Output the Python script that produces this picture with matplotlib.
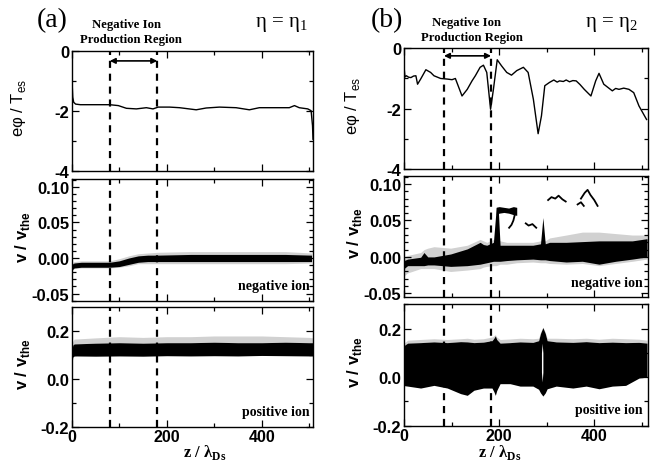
import matplotlib
matplotlib.use('Agg')
import matplotlib.pyplot as plt
from matplotlib.ticker import MultipleLocator

plt.rcParams['axes.unicode_minus'] = False

# ---------------- data ----------------
# electrostatic potential, case (a)
phi_a_z = [0, 1, 2, 4, 8, 18, 80, 98, 115, 136, 157, 171, 182, 206, 227, 262, 283,
           311, 346, 374, 395, 430, 458, 469, 479, 497, 504, 507, 508]
phi_a = [-0.72, -1.2, -1.55, -1.72, -1.78, -1.80, -1.80, -1.83, -1.92, -1.94, -1.90,
         -1.94, -1.88, -1.88, -1.90, -1.97, -1.91, -1.88, -1.90, -1.97, -1.90, -1.90,
         -1.90, -1.83, -1.90, -1.94, -2.0, -2.5, -2.95]

# electrostatic potential, case (b)
phi_b_z = [0, 2, 5, 10, 14.6, 20, 25, 28.5, 35, 46, 56, 63, 77, 91, 101, 108, 122,
           133, 143, 150, 160, 167, 174, 182, 188, 196, 205, 216, 226, 237, 251, 261,
           272, 282, 289, 296, 306, 315, 322, 327, 335, 341, 348, 355, 362, 370, 379,
           393, 403, 410, 420, 438, 445, 452, 462, 473, 483, 494, 510]
phi_b = [-0.6, -0.95, -0.91, -0.96, -0.97, -0.92, -0.91, -1.19, -1.02, -0.71, -0.80,
         -0.91, -1.0, -1.02, -1.04, -1.0, -1.58, -1.36, -1.08, -0.91, -0.63, -0.56,
         -0.80, -2.02, -1.36, -0.38, -0.58, -0.80, -0.89, -0.74, -0.63, -0.80,
         -1.69, -2.83, -2.24, -1.24, -1.13, -1.05, -1.12, -1.08, -1.10, -1.05, -1.11,
         -1.07, -1.08, -1.20, -1.36, -1.58, -1.08, -0.83, -1.19, -1.41, -1.33, -1.36,
         -1.32, -1.36, -1.47, -1.91, -2.36]

# negative-ion phase space, case (a): dense band and sparse halo
neg_a_z = [0, 5, 20, 80, 100, 120, 140, 160, 180, 250, 350, 450, 505]
neg_a_lo = [-0.017, -0.014, -0.013, -0.013, -0.012, -0.009, -0.006, -0.005, -0.005,
            -0.005, -0.005, -0.005, -0.005]
neg_a_hi = [-0.009, -0.007, -0.006, -0.006, -0.004, 0.000, 0.003, 0.004, 0.004,
            0.005, 0.005, 0.005, 0.004]
neg_a_halo_lo = [-0.018, -0.015, -0.014, -0.014, -0.013, -0.011, -0.008, -0.008,
                 -0.008, -0.008, -0.008, -0.008, -0.007]
neg_a_halo_hi = [-0.007, -0.005, -0.004, -0.004, -0.001, 0.003, 0.006, 0.007, 0.008,
                 0.009, 0.009, 0.009, 0.007]

# positive-ion phase space, case (a)
pos_a_z = [0, 2, 5, 50, 100, 150, 200, 250, 300, 350, 400, 450, 500, 508]
pos_a_lo = [0.05, 0.09, 0.095, 0.094, 0.095, 0.094, 0.096, 0.095, 0.096, 0.095,
            0.097, 0.096, 0.095, 0.095]
pos_a_hi = [0.11, 0.14, 0.145, 0.148, 0.15, 0.148, 0.15, 0.15, 0.152, 0.15, 0.15,
            0.152, 0.15, 0.15]
pos_a_halo = [0.12, 0.155, 0.165, 0.17, 0.175, 0.172, 0.175, 0.175, 0.178, 0.178,
              0.178, 0.175, 0.172, 0.17]

# negative-ion phase space, case (b)
neg_b_z = [0, 7.6, 35, 42, 50, 63, 98, 133, 160, 167, 174, 188, 194, 198, 202, 216,
           237, 271, 287, 292, 297, 306, 341, 375, 410, 445, 480, 511]
neg_b_lo = [-0.016, -0.012, -0.012, -0.012, -0.011, -0.011, -0.013, -0.012, -0.010,
            -0.009, -0.008, -0.006, -0.006, -0.006, -0.006, -0.005, -0.004, -0.003,
            -0.004, -0.004, -0.004, -0.005, -0.007, -0.006, -0.010, -0.006, -0.003,
            0.0]
neg_b_hi = [-0.005, -0.003, -0.0005, 0.006, 0.0, 0.0, 0.004, 0.011, 0.020, 0.017,
            0.016, 0.020, 0.068, 0.068, 0.016, 0.016, 0.016, 0.016, 0.018, 0.054,
            0.018, 0.020, 0.020, 0.021, 0.022, 0.022, 0.022, 0.025]
neg_b_halo_lo = [-0.026, -0.022, -0.016, -0.016, -0.016, -0.016, -0.020, -0.018,
                 -0.016, -0.014, -0.013, -0.012, -0.012, -0.011, -0.010, -0.010,
                 -0.008, -0.007, -0.008, -0.008, -0.008, -0.009, -0.010, -0.009,
                 -0.012, -0.009, -0.006, -0.003]
neg_b_halo_hi = [0.0, 0.002, 0.006, 0.010, 0.012, 0.014, 0.012, 0.016, 0.024, 0.022,
                 0.020, 0.024, 0.024, 0.024, 0.022, 0.020, 0.020, 0.020, 0.022,
                 0.024, 0.022, 0.026, 0.030, 0.034, 0.034, 0.032, 0.030, 0.030]
# trapped-ion clump on top of the jump near z = 195
clump_z = [194, 200, 210, 220, 230, 237]
clump_lo = [0.058, 0.060, 0.061, 0.060, 0.058, 0.057]
clump_hi = [0.068, 0.069, 0.068, 0.067, 0.069, 0.068]
# sparse streaks above the band (z, v) polylines
streaks = [
    ([233, 230, 226, 221], [0.058, 0.050, 0.044, 0.040]),
    ([256, 262, 270, 278], [0.046, 0.043, 0.045, 0.040]),
    ([303, 310, 318, 325, 333, 340], [0.078, 0.082, 0.080, 0.084, 0.079, 0.076]),
    ([372, 380, 386, 392, 400, 407], [0.080, 0.088, 0.092, 0.085, 0.078, 0.070]),
    ([365, 372, 378], [0.072, 0.075, 0.070]),
]

# positive-ion phase space, case (b)
pos_b_z = [0, 7.6, 35, 63, 91, 119, 133, 147, 167, 185, 189, 192, 195, 202, 223,
           244, 271, 283, 287, 292, 297, 301, 320, 355, 383, 410, 438, 466, 494, 511]
pos_b_lo = [-0.035, -0.037, -0.045, -0.034, -0.045, -0.068, -0.075, -0.054, -0.045,
            -0.045, -0.060, -0.075, -0.055, -0.027, -0.027, -0.037, -0.037, -0.050,
            -0.065, -0.078, -0.065, -0.048, -0.037, -0.045, -0.037, -0.048, -0.037,
            -0.034, -0.004, 0.0]
pos_b_hi = [0.13, 0.14, 0.142, 0.145, 0.142, 0.146, 0.145, 0.142, 0.144, 0.150,
            0.160, 0.170, 0.155, 0.140, 0.142, 0.145, 0.143, 0.150, 0.180, 0.204,
            0.180, 0.150, 0.145, 0.143, 0.146, 0.142, 0.144, 0.142, 0.143, 0.140]
pos_b_halo = [0.14, 0.152, 0.155, 0.158, 0.155, 0.158, 0.160, 0.156, 0.158, 0.165,
              0.170, 0.175, 0.165, 0.155, 0.157, 0.160, 0.158, 0.160, 0.185, 0.206,
              0.185, 0.160, 0.160, 0.158, 0.160, 0.156, 0.160, 0.158, 0.156, 0.152]
# light slit inside the structure at z ~ 290
slit_z = [289, 290.5, 292]
slit_lo = [0.02, -0.02, 0.02]
slit_hi = [0.10, 0.14, 0.10]

region_a = [80, 180]
region_b = [84, 183]

# ---------------- figure ----------------
W, H = 652, 464
fig = plt.figure(figsize=(W / 100, H / 100), dpi=100)


def px_axes(x0, x1, ytop, ybot):
    return fig.add_axes([x0 / W, 1 - ybot / H, (x1 - x0) / W, (ybot - ytop) / H])


tick_font = dict(family='Liberation Sans', weight='bold', size=12)
xtick_font = dict(family='Liberation Sans', weight='bold', size=11.5)
serif = 'Liberation Serif'
HALO = '0.82'

cols = {
    'a': dict(x0=71.8, x1=313.0, xmax=508,
              rows=[(51.7, 171.7), (180.0, 301.7), (308.3, 428.0)],
              ylims=[(-4, 0), (-0.060, 0.111), (-0.2, 0.297)]),
    'b': dict(x0=404.0, x1=648.0, xmax=513,
              rows=[(49.3, 170.0), (177.0, 298.0), (305.0, 426.7)],
              ylims=[(-4, 0), (-0.055, 0.111), (-0.2, 0.301)]),
}

axes = {}
for key, c in cols.items():
    axs = []
    for i, (yt, yb) in enumerate(c['rows']):
        ax = px_axes(c['x0'], c['x1'], yt, yb)
        ax.set_xlim(0, c['xmax'])
        ax.set_ylim(*c['ylims'][i])
        ax.tick_params(which='both', direction='in', top=True, right=True,
                       width=0.9)
        ax.tick_params(which='major', length=5)
        ax.tick_params(which='minor', length=3)
        ax.xaxis.set_major_locator(MultipleLocator(200))
        ax.xaxis.set_minor_locator(MultipleLocator(100))
        for s in ax.spines.values():
            s.set_linewidth(1.0)
        if i < 2:
            ax.set_xticklabels([])
        axs.append(ax)
    axes[key] = axs

    a0, a1, a2 = axs
    a0.set_yticks([0, -2, -4])
    a0.set_yticklabels(['0', '-2', '-4'], fontdict=tick_font)
    a0.yaxis.set_minor_locator(MultipleLocator(1))
    a1.set_yticks([0.10, 0.05, 0.00, -0.05])
    a1.set_yticklabels(['0.10', '0.05', '0.00', '-0.05'], fontdict=tick_font)
    a1.yaxis.set_minor_locator(MultipleLocator(0.01))
    a2.set_yticks([0.2, 0.0, -0.2])
    a2.set_yticklabels(['0.2', '0.0', '-0.2'], fontdict=tick_font)
    a2.yaxis.set_minor_locator(MultipleLocator(0.1))
    a2.set_xticks([0, 200, 400])
    a2.set_xticklabels(['0', '200', '400'], fontdict=xtick_font)
    for ax in axs:
        ax.tick_params(axis='y', which='major', pad=2)
        ax.tick_params(axis='x', which='major', pad=1.5)

# ---- column (a)
a0, a1, a2 = axes['a']
a0.plot(phi_a_z, phi_a, color='black', lw=1.0)
a1.fill_between(neg_a_z, neg_a_halo_lo, neg_a_halo_hi, color=HALO, lw=0)
a1.fill_between(neg_a_z, neg_a_lo, neg_a_hi, color='black', lw=0)
a2.fill_between(pos_a_z, pos_a_hi, pos_a_halo, color=HALO, lw=0)
a2.fill_between(pos_a_z, pos_a_lo, pos_a_hi, color='black', lw=0)

# ---- column (b)
b0, b1, b2 = axes['b']
b0.plot(phi_b_z, phi_b, color='black', lw=1.0)
b1.fill_between(neg_b_z, neg_b_halo_lo, neg_b_halo_hi, color=HALO, lw=0)
b1.fill_between(neg_b_z, neg_b_lo, neg_b_hi, color='black', lw=0)
b1.fill_between(clump_z, clump_lo, clump_hi, color='black', lw=0)
for zs, vs in streaks:
    b1.plot(zs, vs, color='black', lw=1.3)
b2.fill_between(pos_b_z, pos_b_hi, pos_b_halo, color=HALO, lw=0)
b2.fill_between(pos_b_z, pos_b_lo, pos_b_hi, color='black', lw=0)
b2.fill_between(slit_z, slit_lo, slit_hi, color='white', lw=0)

# dashed region boundaries and arrows
for key, reg, yarr in (('a', region_a, -0.34), ('b', region_b, -0.25)):
    for ax in axes[key]:
        for zx in reg:
            ax.axvline(zx, color='black', lw=1.6, ls=(0, (3.2, 2.6)))
    axes[key][0].annotate('', xy=(reg[1], yarr), xytext=(reg[0], yarr),
                          arrowprops=dict(arrowstyle='<|-|>', color='black',
                                          lw=1.2, mutation_scale=8,
                                          shrinkA=0, shrinkB=0))


def ftext(x, y, s, **kw):
    fig.text(x / W, 1 - y / H, s, **kw)


# panel letters and headers
ftext(52, 21, '(a)', family=serif, size=20, ha='center', va='center')
ftext(387, 21, '(b)', family=serif, size=20, ha='center', va='center')
for cx, cy in ((126, 25), (467, 23)):
    ftext(cx, cy, 'Negative Ion', family=serif, weight='bold', size=9.2,
          ha='center', va='center')
    ftext(cx + 5, cy + 15.5, 'Production Region', family=serif, weight='bold',
          size=9.2, ha='center', va='center')
ftext(281, 25, r'η = η$_\mathregular{1}$', family=serif, size=15, ha='center',
      va='center')
ftext(611, 25, r'η = η$_\mathregular{2}$', family=serif, size=15, ha='center',
      va='center')

# axis labels
for xl, col in ((19, 'a'), (352, 'b')):
    rows = cols[col]['rows']
    ftext(xl, (rows[0][0] + rows[0][1]) / 2 - 4, r'eφ / T$_\mathregular{es}$',
          family='Liberation Sans', size=12, rotation=90, ha='center',
          va='center')
    for r in rows[1:]:
        ftext(xl + 3, (r[0] + r[1]) / 2 - 4, r'v / v$_\mathregular{the}$',
              family='Liberation Sans', weight='bold', size=12, rotation=90,
              ha='center', va='center')
ftext(205, 453, r'z / λ$_\mathregular{Ds}$', family=serif, weight='bold', size=12,
      ha='center', va='center')
ftext(500, 453, r'z / λ$_\mathregular{Ds}$', family=serif, weight='bold', size=12,
      ha='center', va='center')

# species labels
ftext(310, 287, 'negative ion', family=serif, weight='bold', size=10, ha='right',
      va='center')
ftext(310, 413, 'positive ion', family=serif, weight='bold', size=10, ha='right',
      va='center')
ftext(643, 283, 'negative ion', family=serif, weight='bold', size=10, ha='right',
      va='center')
ftext(643, 411, 'positive ion', family=serif, weight='bold', size=10, ha='right',
      va='center')

fig.savefig('out.png', dpi=100)
